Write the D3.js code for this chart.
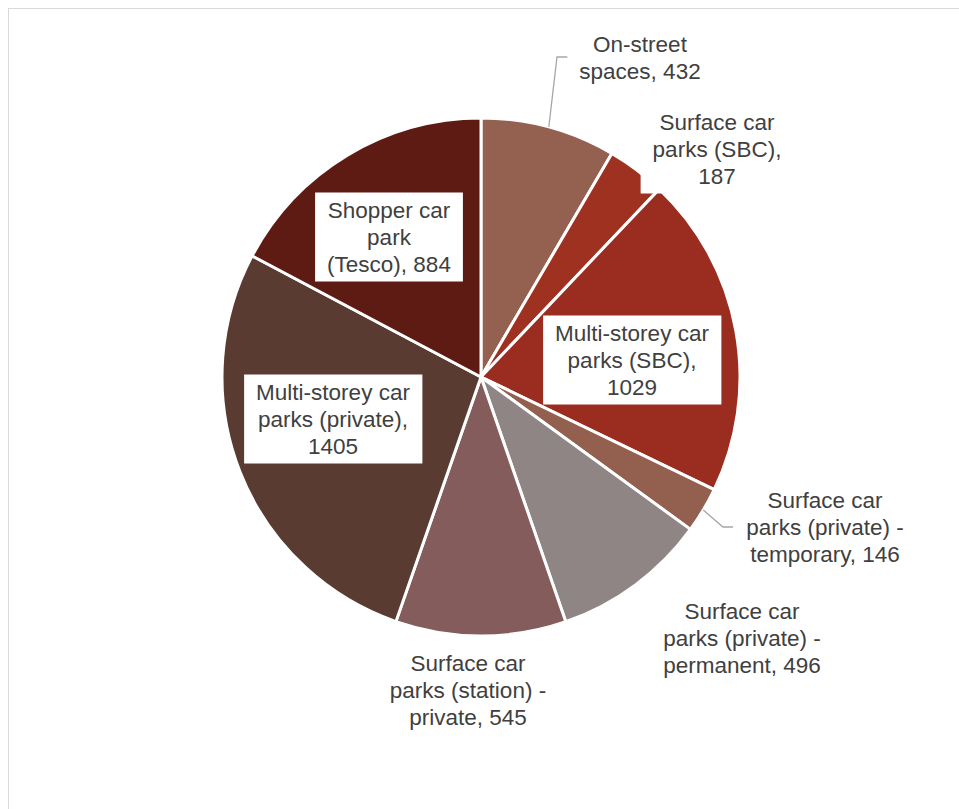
<!DOCTYPE html>
<html>
<head>
<meta charset="utf-8">
<script src="https://cdn.jsdelivr.net/npm/d3@7"></script>
<style>
  body { margin: 0; background: #fff; }
  svg { display: block; }
  text { font-family: "Liberation Sans", Arial, sans-serif; }
</style>
</head>
<body>
<div id="chart"></div>
<script>
// data
var categories = [
	['On-street', 'spaces, 432'],
	['Surface car', 'parks (SBC),', '187'],
	['Multi-storey car', 'parks (SBC),', '1029'],
	['Surface car', 'parks (private) -', 'temporary, 146'],
	['Surface car', 'parks (private) -', 'permanent, 496'],
	['Surface car', 'parks (station) -', 'private, 545'],
	['Multi-storey car', 'parks (private),', '1405'],
	['Shopper car', 'park', '(Tesco), 884']
];
var values = [432, 187, 1029, 146, 496, 545, 1405, 884];
var colors = ['#94604F', '#9F3121', '#9B2D20', '#93604F', '#8F8584', '#845C5C', '#5A3B31', '#5E1B14'];

// label layout (label centre, leader line flag)
var labelPos = [
	{x: 640, y: 57.5, leader: true},
	{x: 717, y: 149},
	{x: 632, y: 360},
	{x: 825, y: 527, leader: true},
	{x: 742, y: 638},
	{x: 468, y: 690},
	{x: 333, y: 419},
	{x: 389, y: 237}
];

var width = 959, height = 809;
var cx = 481, cy = 377, radius = 259;
var lineH = 27, fontSize = 22.5;

var svg = d3.select('#chart').append('svg')
	.attr('width', width)
	.attr('height', height);

// chart area border
svg.append('rect')
	.attr('x', 8.5).attr('y', 8.5)
	.attr('width', width).attr('height', height)
	.attr('fill', 'none')
	.attr('stroke', '#d9d9d9')
	.attr('stroke-width', 1);

var pie = d3.pie().sort(null).value(d => d);
var arcs = pie(values);

var arc = d3.arc().innerRadius(0).outerRadius(radius);

var g = svg.append('g').attr('transform', 'translate(' + cx + ',' + cy + ')');

g.selectAll('path.slice')
	.data(arcs)
	.enter().append('path')
	.attr('class', 'slice')
	.attr('d', arc)
	.attr('fill', (d, i) => colors[i])
	.attr('stroke', '#fff')
	.attr('stroke-width', 3)
	.attr('stroke-linejoin', 'round');

// leader lines
arcs.forEach(function(d, i){
	var p = labelPos[i];
	if(!p.leader) return;
	var mid = (d.startAngle + d.endAngle) / 2;
	var sx = cx + radius * Math.sin(mid);
	var sy = cy - radius * Math.cos(mid);
	var pts;
	if(i === 0){
		pts = [[sx, sy], [557, 57], [568, 57]];
	} else {
		pts = [[sx, sy], [723, 527], [733, 527]];
	}
	svg.append('path')
		.attr('d', d3.line()(pts))
		.attr('fill', 'none')
		.attr('stroke', '#a6a6a6')
		.attr('stroke-width', 1.3);
});

// labels
var labels = svg.selectAll('g.label')
	.data(categories)
	.enter().append('g')
	.attr('class', 'label');

labels.each(function(lines, i){
	var el = d3.select(this);
	var p = labelPos[i];
	var n = lines.length;
	var box = el.append('rect').attr('fill', '#fff');
	var t = el.append('text')
		.attr('text-anchor', 'middle')
		.attr('font-size', fontSize)
		.attr('fill', '#404040');
	lines.forEach(function(l, k){
		t.append('tspan')
			.attr('x', p.x)
			.attr('y', p.y + (k - (n - 1) / 2) * lineH)
			.attr('dy', '0.35em')
			.text(l);
	});
	var bb = t.node().getBBox();
	var top = p.y - (n / 2) * lineH - 4;
	box.attr('x', bb.x - 12)
		.attr('y', top)
		.attr('width', bb.width + 24)
		.attr('height', n * lineH + 8);
});
</script>
</body>
</html>
